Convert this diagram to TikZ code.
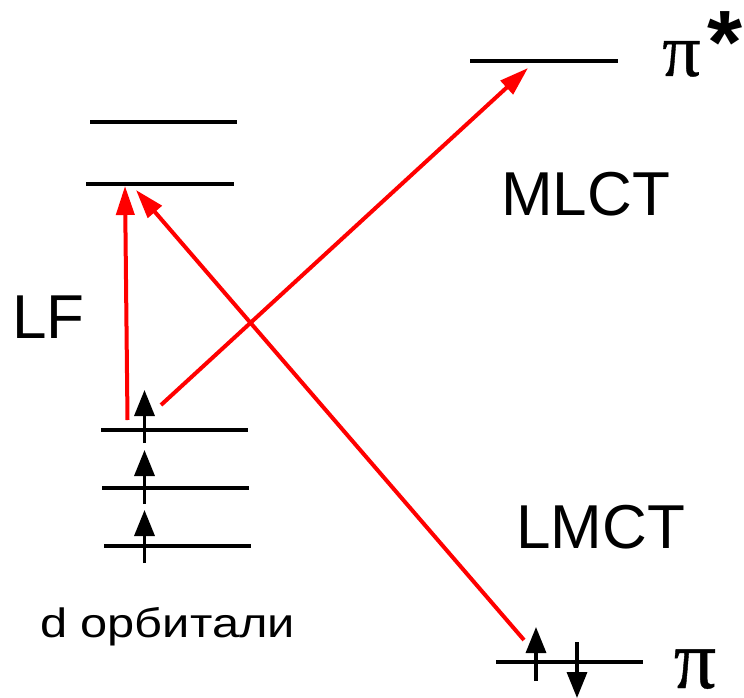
\documentclass[tikz,border=0pt]{standalone}
\usepackage{fontspec}
\setmainfont{Liberation Sans}
\newfontfamily\pifont[FakeBold=0.5]{Liberation Serif}
\usetikzlibrary{arrows.meta}
\begin{document}
\begin{tikzpicture}[x=1pt,y=-1pt,
  level/.style={line width=3.6pt},
  spin/.style={line width=3.4pt,-{Triangle[length=26pt,width=20pt]}},
  trans/.style={red,line width=4pt,-{Triangle[length=29pt,width=18pt]}},
  lbl/.style={font=\fontsize{62}{62}\selectfont,inner sep=0pt,anchor=base},
  small/.style={font=\fontsize{41}{41}\selectfont,inner sep=0pt,anchor=base,xscale=1.19},
  pilbl/.style={font=\pifont\fontsize{76}{76}\selectfont,inner sep=0pt,anchor=base}]
\useasboundingbox (0,0) rectangle (744,698);
% levels
\coordinate (eg1a) at (90,122);  \coordinate (eg1b) at (237,122);
\coordinate (eg2a) at (86,184);  \coordinate (eg2b) at (234,184);
\coordinate (t1a) at (101,430);  \coordinate (t1b) at (248,430);
\coordinate (t2a) at (102,488);  \coordinate (t2b) at (249,488);
\coordinate (t3a) at (104,546);  \coordinate (t3b) at (251,546);
\coordinate (psa) at (470,61);   \coordinate (psb) at (618,61);
\coordinate (pa) at (496,662);   \coordinate (pb) at (643,662);
\draw[level,line width=4pt] (eg1a) -- (eg1b);
\draw[level,line width=4pt] (eg2a) -- (eg2b);
\draw[level] (t1a) -- (t1b);
\draw[level] (t2a) -- (t2b);
\draw[level] (t3a) -- (t3b);
\draw[level] (psa) -- (psb);
\draw[level] (pa) -- (pb);
% spins
\coordinate (s1a) at (144.5,443); \coordinate (s1b) at (144.5,390);
\coordinate (s2a) at (144.5,504); \coordinate (s2b) at (144.5,450);
\coordinate (s3a) at (144.5,563); \coordinate (s3b) at (144.5,510);
\coordinate (s4a) at (536,681);   \coordinate (s4b) at (536,627);
\coordinate (s5a) at (577,642);   \coordinate (s5b) at (577,698);
\draw[spin] (s1a) -- (s1b);
\draw[spin] (s2a) -- (s2b);
\draw[spin] (s3a) -- (s3b);
\draw[spin] (s4a) -- (s4b);
\draw[spin] (s5a) -- (s5b);
% transitions
\coordinate (lfa) at (127.5,420); \coordinate (lfb) at (125,186);
\coordinate (mla) at (161,405);   \coordinate (mlb) at (528,68);
\coordinate (lma) at (524,640);   \coordinate (lmb) at (136,190);
\draw[trans] (lfa) -- (lfb);
\draw[trans] (mla) -- (mlb);
\draw[trans] (lma) -- (lmb);
% labels
\node[lbl] (lf) at (48.5,338) {LF};
\node[lbl] (mlct) at (585.5,215) {MLCT};
\node[lbl] (lmct) at (600.5,548) {LMCT};
\node[small] (dorb) at (167.5,637) {d орбитали};
\node[pilbl] (pistar) at (681.5,76) {π};
\node[font=\bfseries\fontsize{90}{90}\selectfont,inner sep=0pt] (star) at (725,43) {*};
\node[pilbl,font=\pifont\fontsize{84}{84}\selectfont] (pi) at (695,688) {π};
\end{tikzpicture}
\end{document}
